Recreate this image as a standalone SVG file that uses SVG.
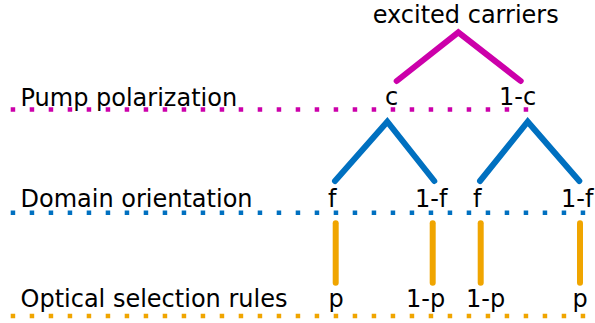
<svg xmlns="http://www.w3.org/2000/svg" width="595" height="323" viewBox="0 0 595 323">
<style>
text{font-family:"DejaVu Sans",Verdana,sans-serif;font-size:24px;fill:#000}
.dot{stroke-width:4.5;stroke-dasharray:4.5 14.5;fill:none}
.br{stroke-width:6;stroke-linecap:round;stroke-linejoin:miter;fill:none}
.m{stroke:#CC00AA}.b{stroke:#0070C0}.o{stroke:#F0A500}
</style>
<rect width="595" height="323" fill="#fff"/>
<g id="levels">
<line class="dot m" x1="10.7" y1="109.5" x2="542" y2="109.5"/>
<line class="dot b" x1="10.7" y1="212.7" x2="595" y2="212.7"/>
<line class="dot o" x1="10.7" y1="316" x2="595" y2="316"/>
<text x="20.5" y="106">Pump polarization</text>
<text x="20.5" y="206.7">Domain orientation</text>
<text x="20.5" y="306.7">Optical selection rules</text>
</g>
<g id="connectors">
<polyline class="br m" points="396.7,81 458.3,32.3 520.7,81"/>
<polyline class="br b" points="335,181 387.3,121.7 434.3,181"/>
<polyline class="br b" points="480,181 527.7,121.7 579.3,181"/>
<line class="br o" x1="335.7" y1="223.3" x2="335.7" y2="282.7"/>
<line class="br o" x1="432.7" y1="223.3" x2="432.7" y2="282.7"/>
<line class="br o" x1="480.7" y1="223.3" x2="480.7" y2="282.7"/>
<line class="br o" x1="580" y1="223.3" x2="580" y2="282.7"/>
</g>
<g id="root"><text x="372.7" y="22.7">excited carriers</text></g>
<g id="c"><text x="385" y="105">c</text></g>
<g id="one-c"><text x="499" y="105">1-c</text></g>
<g id="f1"><text x="328" y="206.7">f</text></g>
<g id="one-f1"><text x="415" y="206.7">1-f</text></g>
<g id="f2"><text x="473" y="206.7">f</text></g>
<g id="one-f2"><text x="561" y="206.7">1-f</text></g>
<g id="p1"><text x="328.5" y="306.7">p</text></g>
<g id="one-p1"><text x="406" y="306.7">1-p</text></g>
<g id="one-p2"><text x="466" y="306.7">1-p</text></g>
<g id="p2"><text x="572.5" y="306.7">p</text></g>
</svg>
